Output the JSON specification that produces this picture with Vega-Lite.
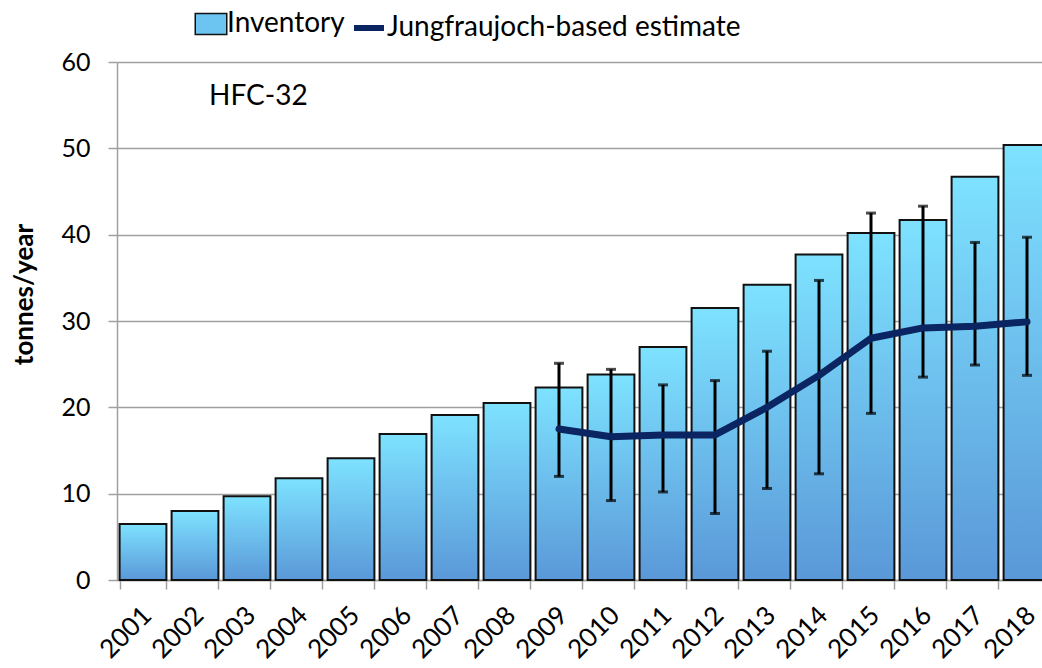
{
  "$schema": "https://vega.github.io/schema/vega-lite/v6.json",
  "autosize": "none",
  "padding": {"left": 117, "top": 62, "right": 0, "bottom": 88},
  "width": 936,
  "height": 518,
  "config": {"font": "Lato", "view": {"stroke": null}},
  "data": {"values": [
    {"year": "2001", "inventory": 6.5},
    {"year": "2002", "inventory": 8.0},
    {"year": "2003", "inventory": 9.7},
    {"year": "2004", "inventory": 11.8},
    {"year": "2005", "inventory": 14.1},
    {"year": "2006", "inventory": 16.9},
    {"year": "2007", "inventory": 19.1},
    {"year": "2008", "inventory": 20.5},
    {"year": "2009", "inventory": 22.3, "estimate": 17.5, "lo": 12.0, "hi": 25.1},
    {"year": "2010", "inventory": 23.8, "estimate": 16.6, "lo": 9.2, "hi": 24.4},
    {"year": "2011", "inventory": 27.0, "estimate": 16.8, "lo": 10.2, "hi": 22.6},
    {"year": "2012", "inventory": 31.5, "estimate": 16.8, "lo": 7.7, "hi": 23.1},
    {"year": "2013", "inventory": 34.2, "estimate": 20.0, "lo": 10.6, "hi": 26.5},
    {"year": "2014", "inventory": 37.7, "estimate": 23.7, "lo": 12.3, "hi": 34.7},
    {"year": "2015", "inventory": 40.2, "estimate": 28.0, "lo": 19.3, "hi": 42.5},
    {"year": "2016", "inventory": 41.7, "estimate": 29.2, "lo": 23.5, "hi": 43.3},
    {"year": "2017", "inventory": 46.7, "estimate": 29.4, "lo": 24.9, "hi": 39.1},
    {"year": "2018", "inventory": 50.4, "estimate": 29.9, "lo": 23.7, "hi": 39.7}
  ]},
  "encoding": {
    "x": {
      "field": "year", "type": "nominal", "sort": null,
      "scale": {"paddingInner": 0.1, "paddingOuter": 0.05},
      "axis": {
        "title": null, "labelAngle": -45, "labelAlign": "right", "labelBaseline": "middle",
        "labelFontSize": 26, "labelColor": "#000", "labelPadding": 22, "labelOffset": 4,
        "domainColor": "#A0A0A0", "domainWidth": 1.5,
        "tickColor": "#A0A0A0", "tickWidth": 1.5, "tickSize": 9, "tickBand": "extent"
      }
    }
  },
  "layer": [
    {
      "mark": {"type": "bar", "stroke": "#111", "strokeWidth": 2,
        "fill": {"gradient": "linear", "x1": 0, "y1": 0, "x2": 0, "y2": 1,
          "stops": [{"offset": 0, "color": "#7EE2FF"}, {"offset": 1, "color": "#5A98D8"}]}},
      "encoding": {
        "y": {
          "field": "inventory", "type": "quantitative",
          "scale": {"domain": [0, 60], "nice": false},
          "axis": {
            "values": [0, 10, 20, 30, 40, 50, 60],
            "title": "tonnes/year", "titleFontSize": 26, "titleFontWeight": "bold", "titleColor": "#000",
            "titleX": -80, "titleY": 232,
            "labelFontSize": 25, "labelColor": "#000", "labelPadding": 18,
            "domainColor": "#A0A0A0", "domainWidth": 1.5,
            "tickColor": "#A0A0A0", "tickWidth": 1.5, "tickSize": 9,
            "grid": true, "gridColor": "#A0A0A0", "gridWidth": 1.5
          }
        }
      }
    },
    {
      "transform": [{"filter": "false"}],
      "mark": {"type": "square", "filled": true},
      "encoding": {
        "y": {"field": "inventory", "type": "quantitative"},
        "fill": {
          "datum": "Inventory",
          "scale": {"range": ["#6CC4F0"]},
          "legend": {
            "title": null, "orient": "none", "legendX": 80, "legendY": -52, "padding": 0,
            "symbolType": "M-1.5,-1H1.5V1H-1.5Z", "symbolSize": 441,
            "symbolStrokeColor": "#111", "symbolStrokeWidth": 1.5, "symbolOpacity": 1,
            "labelFontSize": 28, "labelColor": "#000", "labelOffset": 2, "labelLimit": 500,
            "encode": {"symbols": {
              "enter": {"stroke": {"value": "#111"}, "strokeWidth": {"value": 1.5}},
              "update": {"stroke": {"value": "#111"}, "strokeWidth": {"value": 1.5},
                "fill": {"value": {"gradient": "linear", "x1": 0, "y1": 0, "x2": 0, "y2": 1,
                  "stops": [{"offset": 0, "color": "#7EE2FF"}, {"offset": 1, "color": "#5A98D8"}]}}}}}
          }
        }
      }
    },
    {
      "transform": [{"filter": "isValid(datum.lo)"}],
      "mark": {"type": "rule", "color": "#000", "strokeWidth": 3},
      "encoding": {
        "y": {"field": "lo", "type": "quantitative"},
        "y2": {"field": "hi"}
      }
    },
    {
      "transform": [{"filter": "isValid(datum.lo)"}],
      "mark": {"type": "tick", "color": "#000", "size": 10, "thickness": 3},
      "encoding": {"y": {"field": "lo", "type": "quantitative"}}
    },
    {
      "transform": [{"filter": "isValid(datum.hi)"}],
      "mark": {"type": "tick", "color": "#000", "size": 10, "thickness": 3},
      "encoding": {"y": {"field": "hi", "type": "quantitative"}}
    },
    {
      "transform": [{"filter": "isValid(datum.estimate)"}],
      "mark": {"type": "line", "strokeWidth": 7, "strokeJoin": "round", "strokeCap": "round"},
      "encoding": {
        "y": {"field": "estimate", "type": "quantitative"},
        "stroke": {
          "datum": "Jungfraujoch-based estimate",
          "scale": {"range": ["#0A2561"]},
          "legend": {
            "title": null, "orient": "none", "legendX": 234, "legendY": -52, "padding": 0,
            "symbolType": "stroke", "symbolSize": 900, "symbolStrokeWidth": 6,
            "labelFontSize": 28, "labelColor": "#000", "labelOffset": 0, "labelLimit": 500
          }
        }
      }
    },
    {
      "data": {"values": [{"label": "HFC-32", "year": "2002", "value": 56}]},
      "mark": {"type": "text", "fontSize": 28, "fontWeight": "normal", "align": "left", "baseline": "middle", "dx": 14, "color": "#000"},
      "encoding": {
        "x": {"field": "year", "type": "nominal"},
        "y": {"field": "value", "type": "quantitative"},
        "text": {"field": "label"}
      }
    }
  ]
}
